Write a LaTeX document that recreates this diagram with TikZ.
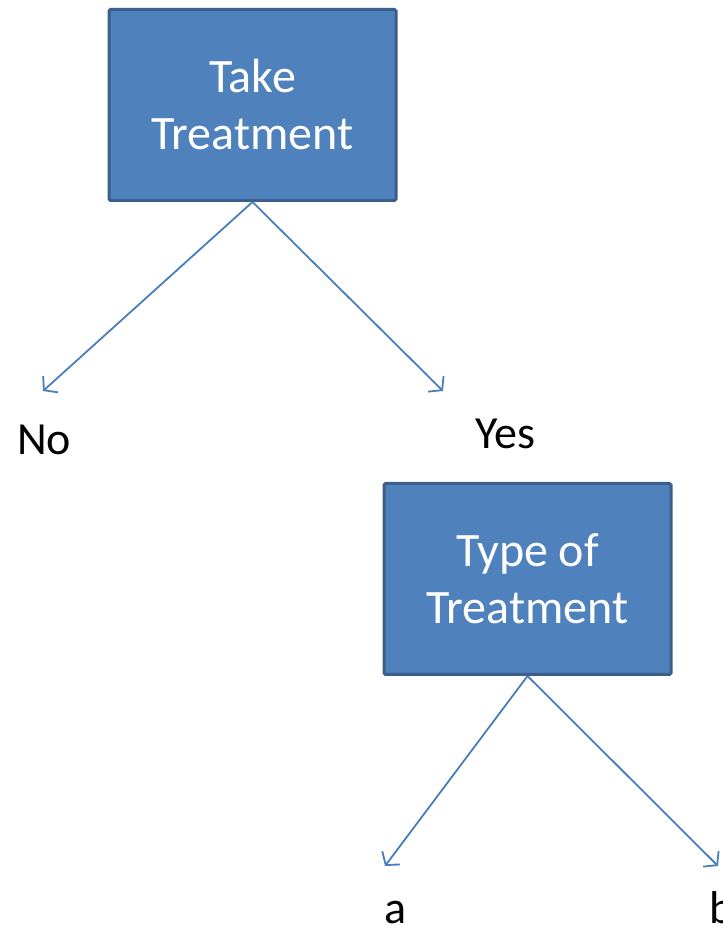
\documentclass[tikz,border=0pt]{standalone}
\usepackage{fontspec}
\setmainfont{Carlito}
\usetikzlibrary{arrows.meta}
\definecolor{boxfill}{HTML}{4F81BD}
\definecolor{boxline}{HTML}{3A5F8B}
\definecolor{arrowcol}{HTML}{4A7EBB}
\tikzset{
  decision/.style={draw=boxline, fill=boxfill, line width=3pt, rounded corners=1.5pt,
    minimum width=287pt, minimum height=191pt, inner sep=0pt, align=center,
    text=white, font=\fontsize{48}{57}\selectfont},
  branch/.style={draw=arrowcol, line width=1.8pt, -{Straight Barb[length=9pt,width=22pt,line width=1.8pt]}},
  outcome/.style={anchor=base west, inner sep=0pt, font=\fontsize{46}{55}\selectfont}
}
\begin{document}
\begin{tikzpicture}[x=1pt,y=1pt]
\useasboundingbox (0,0) rectangle (723,930);
\node[decision] (take) at (252.5,825) {Take\\Treatment};
\node[decision] (type) at (527.5,351) {Type of\\Treatment};
\coordinate (noEnd) at (43,539);
\coordinate (yesEnd) at (443,539);
\coordinate (aEnd) at (385,64);
\coordinate (bEnd) at (718,64);
\draw[branch] (take.south) -- (noEnd);
\draw[branch] (take.south) -- (yesEnd);
\draw[branch] (type.south) -- (aEnd);
\draw[branch] (type.south) -- (bEnd);
\node[outcome] (no) at (17,475) {No};
\node[outcome] (yes) at (475,481) {Yes};
\node[outcome] (a) at (384,6) {a};
\node[outcome] (b) at (709,6) {b};
\end{tikzpicture}
\end{document}
